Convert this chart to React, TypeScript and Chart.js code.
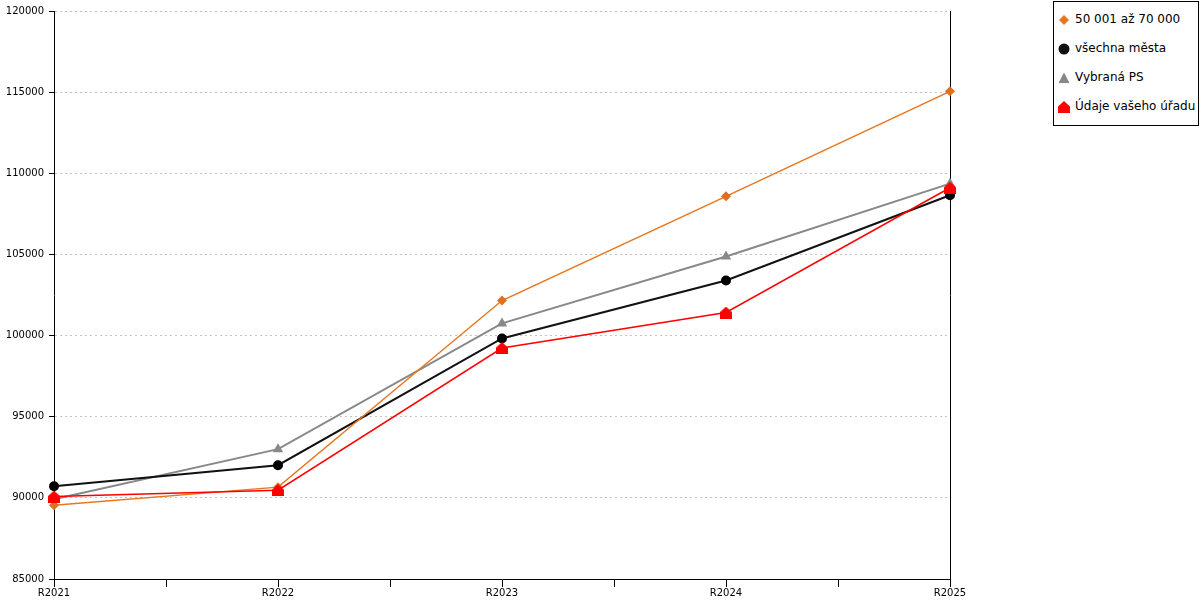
import { useEffect, useRef } from "react";
import { Chart, registerables } from "chart.js";

Chart.register(...registerables);

const categories = ["R2021", "R2022", "R2023", "R2024", "R2025"];
const seriesNames = ["50 001 až 70 000", "všechna města", "Vybraná PS", "Údaje vašeho úřadu"];
const group50to70 = [89550, 90660, 102160, 108580, 115050];
const allCities = [90720, 92010, 99820, 103390, 108650];
const selectedPS = [89920, 93000, 100750, 104870, 109360];
const yourOffice = [90080, 90470, 99230, 101420, 109110];
const yMin = 85000;
const yMax = 120000;
const yStep = 5000;

const colors = ["#e8761e", "#111111", "#888888", "#ff0000"];

function makeHouse(size: number, color: string): HTMLCanvasElement {
  const c = document.createElement("canvas");
  c.width = size;
  c.height = size;
  const g = c.getContext("2d")!;
  g.fillStyle = color;
  g.beginPath();
  g.moveTo(size / 2, 0);
  g.lineTo(size, size * 0.45);
  g.lineTo(size, size);
  g.lineTo(0, size);
  g.lineTo(0, size * 0.45);
  g.closePath();
  g.fill();
  return c;
}

const toPoints = (vals: number[]) => vals.map((y, i) => ({ x: i, y }));

function LegendMarker({ idx }: { idx: number }) {
  const col = colors[idx];
  let shape;
  if (idx === 0) shape = <polygon points="6,1 11,6 6,11 1,6" fill={col} />;
  else if (idx === 1) shape = <circle cx="6" cy="6" r="5.5" fill={col} />;
  else if (idx === 2) shape = <polygon points="6,0.5 11.5,11 0.5,11" fill={col} />;
  else shape = <polygon points="6,0 12,5.5 12,12 0,12 0,5.5" fill={col} />;
  return (
    <svg width="12" height="12" viewBox="0 0 12 12" style={{ position: "absolute", left: 4, top: -6 }}>
      {shape}
    </svg>
  );
}

export default function App() {
  const ref = useRef<HTMLCanvasElement | null>(null);

  useEffect(() => {
    if (!ref.current) return;
    const house = makeHouse(12, colors[3]);
    const chart = new Chart(ref.current, {
      type: "line",
      data: {
        datasets: [
          {
            label: seriesNames[0],
            data: toPoints(group50to70),
            borderColor: colors[0],
            backgroundColor: "#e07020",
            borderWidth: 1.5,
            pointStyle: "rectRot",
            pointRadius: 5,
            pointBorderWidth: 0,
            order: 2,
            clip: false as any,
          },
          {
            label: seriesNames[1],
            data: toPoints(allCities),
            borderColor: colors[1],
            backgroundColor: "#000",
            borderWidth: 2,
            pointStyle: "circle",
            pointRadius: 5,
            pointBorderWidth: 0,
            order: 3,
            clip: false as any,
          },
          {
            label: seriesNames[2],
            data: toPoints(selectedPS),
            borderColor: colors[2],
            backgroundColor: colors[2],
            borderWidth: 2,
            pointStyle: "triangle",
            pointRadius: 6,
            pointBorderWidth: 0,
            order: 4,
            clip: false as any,
          },
          {
            label: seriesNames[3],
            data: toPoints(yourOffice),
            borderColor: colors[3],
            backgroundColor: colors[3],
            borderWidth: 1.5,
            pointStyle: house as any,
            pointRadius: 6,
            pointBorderWidth: 0,
            order: 1,
            clip: false as any,
          },
        ],
      },
      options: {
        animation: false,
        responsive: false,
        devicePixelRatio: 1,
        layout: { padding: { left: 0, top: 10, right: 250, bottom: 0 } },
        plugins: {
          legend: { display: false },
          tooltip: { enabled: false },
        },
        scales: {
          x: {
            type: "linear",
            min: 0,
            max: categories.length - 1,
            afterFit: (s: any) => {
              s.height = 21;
            },
            ticks: {
              stepSize: 0.5,
              autoSkip: false,
              maxRotation: 0,
              padding: 0,
              color: "#000",
              font: { family: "DejaVu Sans", size: 10 },
              callback: (v: any) => (Number.isInteger(v) ? categories[v] : ""),
            },
            grid: {
              drawOnChartArea: false,
              drawTicks: true,
              tickLength: 8,
              tickColor: "#000",
              tickWidth: 1,
            },
            border: { display: true, color: "#000", width: 1 },
          },
          y: {
            type: "linear",
            position: "left",
            min: yMin,
            max: yMax,
            afterFit: (s: any) => {
              s.width = 54;
            },
            ticks: {
              stepSize: yStep,
              padding: 5,
              color: "#000",
              font: { family: "DejaVu Sans", size: 10 },
              callback: (v: any) => String(v),
            },
            grid: {
              color: "#c4c4c4",
              lineWidth: 1,
              drawTicks: true,
              tickLength: 5,
              tickColor: "#000",
              tickWidth: 1,
            },
            border: { display: true, color: "#000", width: 1, dash: [2, 3] },
          },
          y2: {
            type: "linear",
            position: "right",
            min: yMin,
            max: yMax,
            afterFit: (s: any) => {
              s.width = 0;
            },
            ticks: { display: false },
            grid: { display: false, drawTicks: false },
            border: { display: true, color: "#000", width: 1 },
          },
        },
      },
    });
    return () => chart.destroy();
  }, []);

  return (
    <div style={{ position: "fixed", left: 0, top: 0, width: 1200, height: 600, background: "#fff" }}>
      <canvas ref={ref} width={1200} height={600} style={{ display: "block" }} />
      <div
        style={{
          position: "absolute",
          left: 1053,
          top: 1,
          width: 144,
          height: 123,
          border: "1px solid #000",
          background: "#fff",
          fontFamily: "DejaVu Sans",
          fontSize: 12,
          color: "#000",
        }}
      >
        {seriesNames.map((name, i) => (
          <div key={name} style={{ position: "absolute", left: 0, top: 18 + i * 29, height: 0, width: "100%" }}>
            <LegendMarker idx={i} />
            <span style={{ position: "absolute", left: 21, top: -8, lineHeight: "15px", whiteSpace: "nowrap" }}>{name}</span>
          </div>
        ))}
      </div>
    </div>
  );
}
